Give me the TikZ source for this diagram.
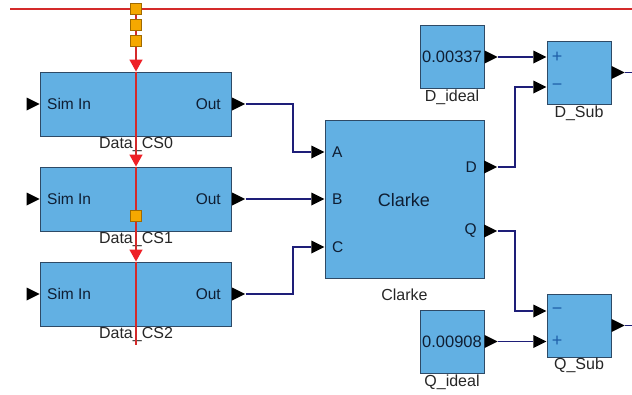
\documentclass[tikz,border=0pt]{standalone}
\usepackage{fontspec}
\setmainfont{Liberation Sans}
\usetikzlibrary{positioning,calc,shapes.geometric,arrows.meta}
\definecolor{blkfill}{HTML}{62B0E3}
\definecolor{blkline}{HTML}{2E4A66}
\definecolor{wirecol}{HTML}{1E1E78}
\definecolor{buscol}{HTML}{D42A2A}
\definecolor{tipcol}{HTML}{EE2026}
\definecolor{tapfill}{HTML}{F5A800}
\definecolor{tapline}{HTML}{A06A00}
\definecolor{txtcol}{HTML}{0F1E33}
\definecolor{signcol}{HTML}{1F5FA8}
\tikzset{
  % --- model blocks ---
  blk/.style={draw=blkline, fill=blkfill, line width=0.9pt, inner sep=0pt},
  blklabel/.style={font=\fontsize{16}{18}\selectfont, text=black!85, inner sep=0pt},
  porttxt/.style={font=\fontsize{15.5}{17}\selectfont, text=txtcol, inner sep=0pt},
  valtxt/.style={font=\fontsize{16.5}{18}\selectfont, text=txtcol, inner sep=0pt},
  signtxt/.style={font=\fontsize{18}{20}\selectfont, text=signcol, inner sep=0pt},
  % --- ports and wires ---
  sport/.style={isosceles triangle, isosceles triangle stretches, fill=black,
                minimum width=13pt, minimum height=13pt, inner sep=0pt},
  wire/.style={draw=wirecol, line width=1.3pt},
  % --- red gateway bus ---
  buswire/.style={draw=buscol, line width=1.3pt},
  bustip/.style={-{Triangle[length=12pt,width=13pt,fill=tipcol,color=tipcol]}},
  tap/.style={rectangle, draw=tapline, fill=tapfill, line width=0.6pt,
              minimum size=11pt, inner sep=0pt},
}
\begin{document}
\begin{tikzpicture}[x=1pt,y=-1pt]
  \useasboundingbox (0,0) rectangle (632,394);
  % data channel blocks
  \foreach \i/\y in {0/104,1/199,2/294}{
    \node[blk, minimum width=191pt, minimum height=64pt] (cs\i) at (136,\y) {};
    \node[porttxt, anchor=west] (sin\i) at (47,\y) {Sim In};
    \node[porttxt, anchor=east] (sout\i) at (221,\y) {Out};
    \node[sport, anchor=east] (pin\i) at (cs\i.west) {};
    \node[sport, anchor=west] (pout\i) at (cs\i.east) {};
    \node[blklabel, below=1pt of cs\i] (lcs\i) {Data\_CS\i};
  }
  % transform block
  \node[blk, minimum width=159pt, minimum height=158pt] (clarke) at (404.5,199) {};
  \node[porttxt, font=\fontsize{18}{20}\selectfont] (tclarke) at (404,200) {Clarke};
  \node[blklabel, below=10pt of clarke] (lclarke) {Clarke};
  \foreach \p/\t/\y in {a/A/152,b/B/199,c/C/247}{
    \node[sport, anchor=east] (i\p) at (325,\y) {};
    \node[porttxt, anchor=west] (t\p) at (332,\y) {\t};
  }
  \foreach \p/\t/\y in {d/D/167,q/Q/231}{
    \node[sport, anchor=west] (o\p) at (484,\y) {};
    \node[porttxt, anchor=east] (t\p) at (477,\y) {\t};
  }
  % reference constants and subtractors
  \node[blk, minimum width=64pt, minimum height=63pt] (dideal) at (452,57) {};
  \node[valtxt, anchor=east] (vd) at (482,57) {0.00337};
  \node[sport, anchor=west] (pdi) at (dideal.east) {};
  \node[blklabel, below=1pt of dideal] (ldideal) {D\_ideal};
  \node[blk, minimum width=64pt, minimum height=63pt] (qideal) at (452,341.5) {};
  \node[valtxt, anchor=east] (vq) at (482,341.5) {0.00908};
  \node[sport, anchor=west] (pqi) at (qideal.east) {};
  \node[blklabel, below=1pt of qideal] (lqideal) {Q\_ideal};
  \node[blk, minimum width=64pt, minimum height=63pt] (dsub) at (579,72.5) {};
  \node[sport, anchor=east] (dp) at (547,57) {};
  \node[sport, anchor=east] (dm) at (547,87) {};
  \node[signtxt] (sdp) at (557,57) {+};
  \node[signtxt] (sdm) at (557,87) {−};
  \node[sport, anchor=west] (pds) at (dsub.east) {};
  \node[blklabel, below=1pt of dsub] (ldsub) {D\_Sub};
  \node[blk, minimum width=64pt, minimum height=63pt] (qsub) at (579,325.5) {};
  \node[sport, anchor=east] (qm) at (547,311) {};
  \node[sport, anchor=east] (qp) at (547,341.5) {};
  \node[signtxt] (sqm) at (557,311) {−};
  \node[signtxt] (sqp) at (557,341.5) {+};
  \node[sport, anchor=west] (pqs) at (qsub.east) {};
  \node[blklabel, below=0pt of qsub] (lqsub) {Q\_Sub};
  % wires
  \coordinate (bendL) at (293,0);
  \coordinate (bendR) at (515,0);
  \coordinate (dend) at (632,72.5);
  \coordinate (qend) at (632,325.5);
  \draw[wire] (pout0.east) -- (bendL |- pout0.east) |- (ia.west);
  \draw[wire] (pout1.east) -- (ib.west);
  \draw[wire] (pout2.east) -- (bendL |- pout2.east) |- (ic.west);
  \draw[wire] (pdi.east) -- (dp.west);
  \draw[wire] (od.east) -- (bendR |- od.east) |- (dm.west);
  \draw[wire] (oq.east) -- (bendR |- oq.east) |- (qm.west);
  \draw[wire] (pqi.east) -- (qp.west);
  \draw[wire] (pds.east) -- (dend);
  \draw[wire] (pqs.east) -- (qend);
  % gateway bus
  \node[tap] (tap0) at (136,9) {};
  \node[tap] (tap1) at (136,25) {};
  \node[tap] (tap2) at (136,41) {};
  \coordinate (busL) at (10,9);
  \coordinate (busR) at (632,9);
  \coordinate (busend) at (136,345);
  \draw[buswire] (busL) -- (tap0);
  \draw[buswire] (tap0) -- (busR);
  \draw[buswire] (tap0) -- (tap1);
  \draw[buswire] (tap1) -- (tap2);
  \draw[buswire, bustip] (tap2) -- (cs0.north);
  \draw[buswire, bustip] (cs0.north) -- (cs1.north);
  \draw[buswire, bustip] (cs1.north) -- (cs2.north);
  \draw[buswire] (cs2.north) -- (busend);
  \node[tap] (tap3) at (136,216) {};
\end{tikzpicture}
\end{document}
